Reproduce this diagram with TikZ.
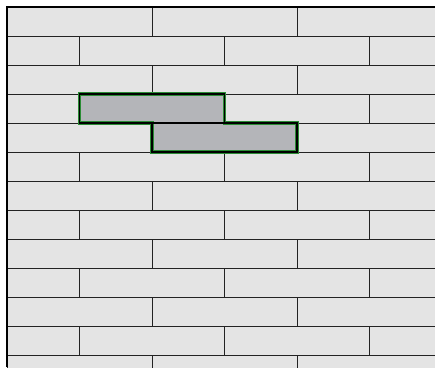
\documentclass[tikz,border=0pt]{standalone}
\usepackage{xcolor}
\usepackage{tikz}
\definecolor{brickfill}{HTML}{E4E4E4}
\definecolor{jointline}{HTML}{222222}
\definecolor{pickfill}{HTML}{B4B5B9}
\definecolor{pickglow}{HTML}{2A8C34}

\begin{document}
\begin{tikzpicture}[x=1pt, y=-1pt,
    brick/.style={fill=brickfill, draw=jointline, line width=1pt},
    pick/.style={draw=black, line width=1.6pt}]
    \useasboundingbox (0,0) rectangle (435,367);
    \begin{scope}
        \clip (7,7) rectangle (435,367);
        \foreach \r in {0,...,12} {
            \pgfmathsetmacro{\ytop}{7+29*\r}
            \pgfmathsetmacro{\xoff}{mod(\r,2)==0 ? 7 : -65.5}
            \foreach \k in {0,...,3}
                \draw[brick] (\xoff+145*\k,\ytop) rectangle ++(145,29);
        }
    \end{scope}
    % highlighted pair of bricks
    \fill[pickfill] (79.5,94) rectangle (224.5,123);
    \fill[pickfill] (152,123) rectangle (297,152);
    \draw[pickglow, line width=3.6pt, line join=miter]
        (79.5,94) -- (224.5,94) -- (224.5,123) -- (297,123) -- (297,152)
        -- (152,152) -- (152,123) -- (79.5,123) -- cycle;
    \draw[pick] (79.5,94) rectangle (224.5,123);
    \draw[pick] (152,123) rectangle (297,152);
    % outer border
    \draw[black, line width=1.6pt] (7,367) -- (7,7) -- (435,7);
\end{tikzpicture}
\end{document}
